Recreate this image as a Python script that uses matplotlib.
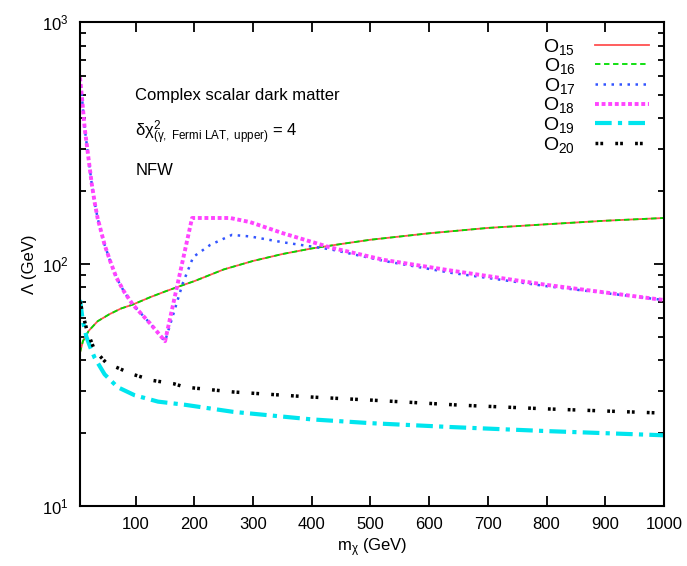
import matplotlib
matplotlib.use('Agg')
import matplotlib.pyplot as plt
import numpy as np
from matplotlib.ticker import LogLocator, NullFormatter

plt.rcParams['font.family'] = ['Liberation Sans', 'DejaVu Sans']
plt.rcParams['mathtext.fontset'] = 'custom'
plt.rcParams['mathtext.rm'] = 'Liberation Sans'
plt.rcParams['mathtext.it'] = 'Liberation Sans'
plt.rcParams['mathtext.default'] = 'regular'

# O15 / O16 (quasi identicos)
x_o15 = [5, 10, 20, 35, 55, 75, 95, 125, 150, 175, 200, 250, 300, 350, 400, 450, 500,
         600, 700, 800, 900, 1000]
y_o15 = [43, 48, 53, 58, 62, 65.5, 68, 73, 77, 81, 85, 95, 103, 110, 116, 121, 126,
         134, 141, 146, 151, 155]
y_o16 = [43, 48, 53, 58, 62, 65.5, 68, 73, 77, 81, 85, 95, 103, 110, 116, 121, 126,
         134, 141, 146, 151, 155]

# O17 / O18
x_o18 = [5, 8, 13, 19, 25, 30, 35, 47, 57, 67, 80, 95, 124, 150, 196, 261, 295, 351, 432, 523, 637, 800, 1000]
y_o18 = [590, 500, 365, 280, 215, 180, 155, 120, 102, 88, 77, 68, 57, 48, 155, 155, 149, 134, 117, 104, 94, 82, 71]
x_o17 = [5, 8, 13, 19, 25, 30, 35, 47, 57, 67, 80, 95, 124, 150, 180, 198, 227, 264, 295, 351, 432, 523, 637, 800, 1000]
y_o17 = [590, 500, 365, 280, 215, 180, 155, 120, 102, 88, 77, 68, 57, 48, 83, 107, 120, 132, 130, 123, 115, 103, 92, 81, 71]

# O19
x_o19 = [5, 10, 16, 23, 30, 47, 69, 98, 138, 184, 266, 400, 500, 637, 800, 1000]
y_o19 = [71, 58, 50, 45, 41, 35, 31, 28.7, 27, 26.2, 24.5, 22.8, 22, 21.2, 20.4, 19.6]

# O20
x_o20 = [5, 10, 17, 30, 50, 95, 130, 165, 184, 266, 400, 500, 654, 800, 1000]
y_o20 = [70, 62, 53, 44, 39, 35, 33, 32, 31, 29.6, 28.2, 27.4, 26.1, 25.2, 24.2]

labels = ['$O_{15}$', '$O_{16}$', '$O_{17}$', '$O_{18}$', '$O_{19}$', '$O_{20}$']

fig = plt.figure(figsize=(6.87, 5.66), dpi=100)
ax = fig.add_axes([0.1164, 0.106, 0.85, 0.855])

ax.plot(x_o15, y_o15, color='#ff5050', lw=1.3, label=labels[0])
ax.plot(x_o15, y_o16, color='#00dd00', lw=1.3, dashes=(3, 2), label=labels[1])
ax.plot(x_o17, y_o17, color='#3355ff', lw=1.8, dashes=(1, 2.2), label=labels[2])
ax.plot(x_o18, y_o18, color='#ff44ff', lw=2.8, dashes=(1, 0.7), label=labels[3])
ax.plot(x_o19, y_o19, color='#00e5ee', lw=3, dashes=(4, 1.5, 1, 1.5), label=labels[4])
ax.plot(x_o20, y_o20, color='black', lw=2.5, dashes=(0.8, 0.6, 0.8, 3.5), label=labels[5])

ax.set_yscale('log')
ax.set_xlim(5, 1000)
ax.set_ylim(10, 1000)
ax.set_xticks(range(100, 1001, 100))
ax.yaxis.set_minor_locator(LogLocator(base=10, subs=np.arange(2, 10)))
ax.yaxis.set_minor_formatter(NullFormatter())
ax.tick_params(which='both', direction='in', top=True, right=True, labelsize=12, width=1.3)
ax.tick_params(which='major', length=7, pad=8)
ax.tick_params(which='minor', length=4)
ax.tick_params(axis='x', which='minor', bottom=False, top=False)
for s in ax.spines.values():
    s.set_linewidth(1.5)

ax.set_xlabel(r'm$_\chi$ (GeV)', fontsize=12, labelpad=3)
ax.set_ylabel('Λ (GeV)', fontsize=12, labelpad=4)

ax.text(0.095, 0.838, 'Complex scalar dark matter', transform=ax.transAxes, fontsize=12)
ax.text(0.095, 0.763, r'$\delta\chi^2_{(\gamma,\ Fermi\ LAT,\ upper)}$ = 4', transform=ax.transAxes, fontsize=12)
ax.text(0.095, 0.683, 'NFW', transform=ax.transAxes, fontsize=12)

ax.legend(loc='upper right', frameon=False, markerfirst=False, fontsize=14,
          handlelength=2.8, labelspacing=-0.02, borderaxespad=0.35, handletextpad=1.0)

plt.savefig('out.png', dpi=100)
plt.close()
